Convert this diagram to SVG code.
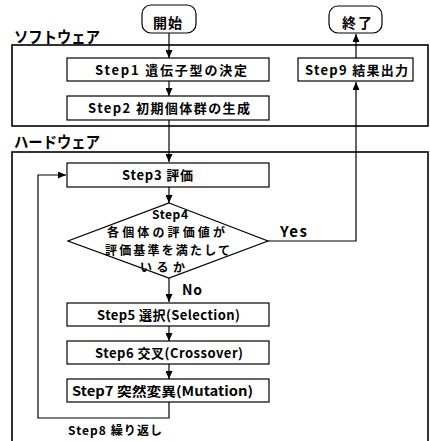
<svg xmlns="http://www.w3.org/2000/svg" width="430" height="441" viewBox="0 0 430 441">
<defs>
<marker id="ah" markerWidth="8" markerHeight="7" refX="8" refY="3.5" orient="auto" markerUnits="userSpaceOnUse">
<path d="M0,0 L8,3.5 L0,7 Z" fill="#000"/>
</marker>
<style>
.t{font-family:"Noto Sans CJK JP","Liberation Sans",sans-serif;font-weight:bold;fill:#000}
.s{font-size:13px}
.d{font-size:12px}
.box{fill:#fff;stroke:#000;stroke-width:1.2}
.frame{fill:none;stroke:#000;stroke-width:1.6}
.ln{fill:none;stroke:#000;stroke-width:1.2}
</style>
</defs>
<rect width="430" height="441" fill="#fff"/>
<g id="software">
<rect class="frame" x="12" y="45" width="416" height="81"/>
<text class="t" x="14" y="43" font-size="15.5" textLength="86" lengthAdjust="spacingAndGlyphs">ソフトウェア</text>
</g>
<g id="hardware">
<rect class="frame" x="12" y="152" width="416" height="300"/>
<text class="t" x="14" y="148" font-size="15.5" textLength="86" lengthAdjust="spacingAndGlyphs">ハードウェア</text>
</g>
<g id="connectors">
<line class="ln" x1="169" y1="33" x2="169" y2="58" marker-end="url(#ah)"/>
<line class="ln" x1="169" y1="81" x2="169" y2="96" marker-end="url(#ah)"/>
<line class="ln" x1="169" y1="120" x2="169" y2="162" marker-end="url(#ah)"/>
<line class="ln" x1="169" y1="187" x2="169" y2="203" marker-end="url(#ah)"/>
<line class="ln" x1="169" y1="278" x2="169" y2="302" marker-end="url(#ah)"/>
<line class="ln" x1="169" y1="326" x2="169" y2="341" marker-end="url(#ah)"/>
<line class="ln" x1="169" y1="364" x2="169" y2="379" marker-end="url(#ah)"/>
<polyline class="ln" points="169,402 169,418 38,418 38,175 66,175" marker-end="url(#ah)"/>
<polyline class="ln" points="268,241 356,241 356,82" marker-end="url(#ah)"/>
<line class="ln" x1="356" y1="58" x2="356" y2="34" marker-end="url(#ah)"/>
<text class="t" x="280" y="237" font-size="15" textLength="27">Yes</text>
<text class="t" x="182" y="295" font-size="14" textLength="20">No</text>
<text class="t" x="68" y="435" font-size="12" textLength="94">Step8 繰り返し</text>
</g>
<g id="start">
<rect class="box" x="142" y="5" width="54" height="28" rx="9"/>
<text class="t" x="153" y="28" font-size="14" textLength="29">開始</text>
</g>
<g id="end">
<rect class="box" x="329" y="6" width="53" height="27" rx="9"/>
<text class="t" x="342" y="28" font-size="14" textLength="30">終了</text>
</g>
<g id="step1">
<rect class="box" x="67" y="58" width="202" height="23"/>
<text class="t s" x="95" y="75" textLength="152">Step1 遺伝子型の決定</text>
</g>
<g id="step2">
<rect class="box" x="67" y="96" width="202" height="24"/>
<text class="t s" x="88" y="113" textLength="162">Step2 初期個体群の生成</text>
</g>
<g id="step9">
<rect class="box" x="298" y="58" width="115" height="23"/>
<text class="t s" x="305" y="75" textLength="103">Step9 結果出力</text>
</g>
<g id="step3">
<rect class="box" x="67" y="163" width="202" height="24"/>
<text class="t s" x="122" y="180" textLength="71">Step3 評価</text>
</g>
<g id="step4">
<polygon class="box" points="169,203 268,241 169,278 68,241"/>
<text class="t" x="152" y="219" font-size="12" textLength="36">Step4</text>
<text class="t d" x="107" y="237" textLength="118">各個体の評価値が</text>
<text class="t d" x="105" y="255" textLength="125">評価基準を満たして</text>
<text class="t d" x="140" y="272" textLength="45">いるか</text>
</g>
<g id="step5">
<rect class="box" x="67" y="303" width="202" height="23"/>
<text class="t s" x="97" y="320" textLength="143">Step5 選択(Selection)</text>
</g>
<g id="step6">
<rect class="box" x="67" y="341" width="202" height="23"/>
<text class="t s" x="95" y="358" textLength="148">Step6 交叉(Crossover)</text>
</g>
<g id="step7">
<rect class="box" x="67" y="379" width="202" height="23"/>
<text class="t s" x="72" y="396" textLength="181" lengthAdjust="spacingAndGlyphs">Step7 突然変異(Mutation)</text>
</g>
</svg>
